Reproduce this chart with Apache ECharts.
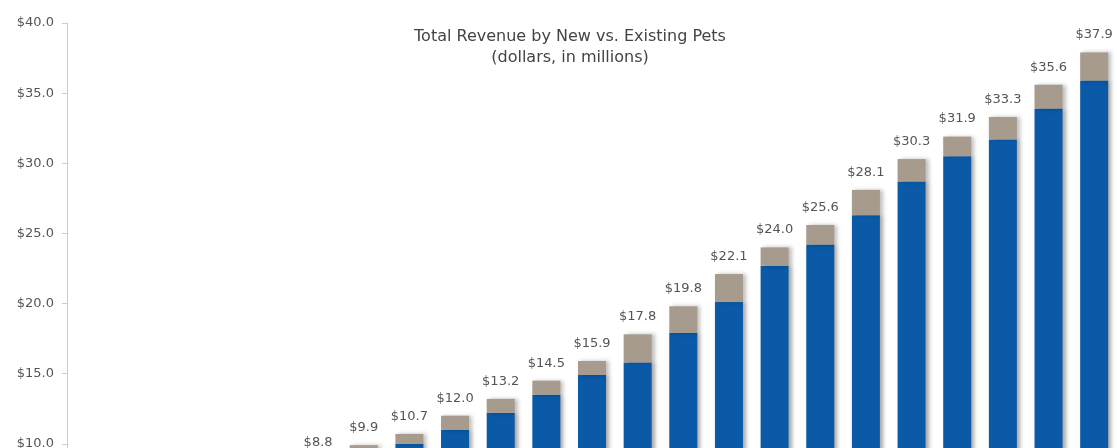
<!DOCTYPE html>
<html>
<head>
<meta charset="utf-8">
<script src="https://cdn.jsdelivr.net/npm/echarts@6/dist/echarts.min.js"></script>
<style>
    html, body { margin: 0; padding: 0; background: #fff; }
    #revenue-chart { width: 1117px; height: 448px; }
</style>
</head>
<body>
<div id="revenue-chart"></div>
<script>
// Periods (the axis labels sit below the visible area)
var periods = ['P1', 'P2', 'P3', 'P4', 'P5', 'P6', 'P7', 'P8', 'P9', 'P10', 'P11', 'P12',
    'P13', 'P14', 'P15', 'P16', 'P17', 'P18', 'P19', 'P20', 'P21', 'P22', 'P23'];

// Revenue from existing pets (blue, bottom of stack)
var existingPets = [3.3, 4.3, 5.2, 6.1, 6.9, 8.2, 9.3, 10.0, 11.0, 12.2, 13.5, 14.9,
    15.8, 17.9, 20.1, 22.7, 24.2, 26.3, 28.7, 30.5, 31.7, 33.9, 35.9];

// Revenue from new pets (beige, top of stack)
var newPets = [0.2, 0.3, 0.4, 0.5, 0.6, 0.6, 0.6, 0.7, 1.0, 1.0, 1.0, 1.0,
    2.0, 1.9, 2.0, 1.3, 1.4, 1.8, 1.6, 1.4, 1.6, 1.7, 2.0];

// Y axis ticks
var yMin = 0;
var yMax = 40;
var yStep = 5;

var textColor = '#555';
var fontName = 'DejaVu Sans';

var chart = echarts.init(document.getElementById('revenue-chart'));

var option = {
    animation: false,
    title: {
        text: 'Total Revenue by New vs. Existing Pets\n(dollars, in millions)',
        left: 565,
        top: 21,
        textAlign: 'center',
        textStyle: {
            fontFamily: fontName,
            fontSize: 16,
            fontWeight: 'normal',
            color: '#444',
            lineHeight: 21
        }
    },
    // plot runs past the bottom of the window, as in the cropped original
    grid: {
        left: 67,
        width: 1050,
        top: 23,
        height: 561,
        outerBoundsMode: 'none',
        containLabel: false
    },
    xAxis: {
        type: 'category',
        data: periods,
        show: false
    },
    yAxis: {
        type: 'value',
        min: yMin,
        max: yMax,
        interval: yStep,
        axisLine: { show: true, lineStyle: { color: '#ccc' } },
        axisTick: { show: true, length: 5, lineStyle: { color: '#ccc' } },
        splitLine: { show: false },
        axisLabel: {
            fontFamily: fontName,
            fontSize: 13,
            color: textColor,
            margin: 13,
            formatter: function (v) {
                return '$' + v.toFixed(1);
            }
        }
    },
    series: [
        {
            name: 'Existing Pets',
            type: 'bar',
            stack: 'revenue',
            barWidth: 28,
            data: existingPets,
            itemStyle: {
                color: '#0a5aa8',
                shadowColor: 'rgba(0,0,0,0.35)',
                shadowBlur: 4,
                shadowOffsetX: 3
            }
        },
        {
            name: 'New Pets',
            type: 'bar',
            stack: 'revenue',
            barWidth: 28,
            data: newPets,
            itemStyle: {
                color: '#a69b8d',
                shadowColor: 'rgba(0,0,0,0.25)',
                shadowBlur: 4,
                shadowOffsetX: 3
            },
            label: {
                show: true,
                position: 'top',
                distance: 11,
                fontFamily: fontName,
                fontSize: 13,
                color: textColor,
                formatter: function (p) {
                    return '$' + (existingPets[p.dataIndex] + newPets[p.dataIndex]).toFixed(1);
                }
            }
        }
    ]
};

chart.setOption(option);
</script>
</body>
</html>
